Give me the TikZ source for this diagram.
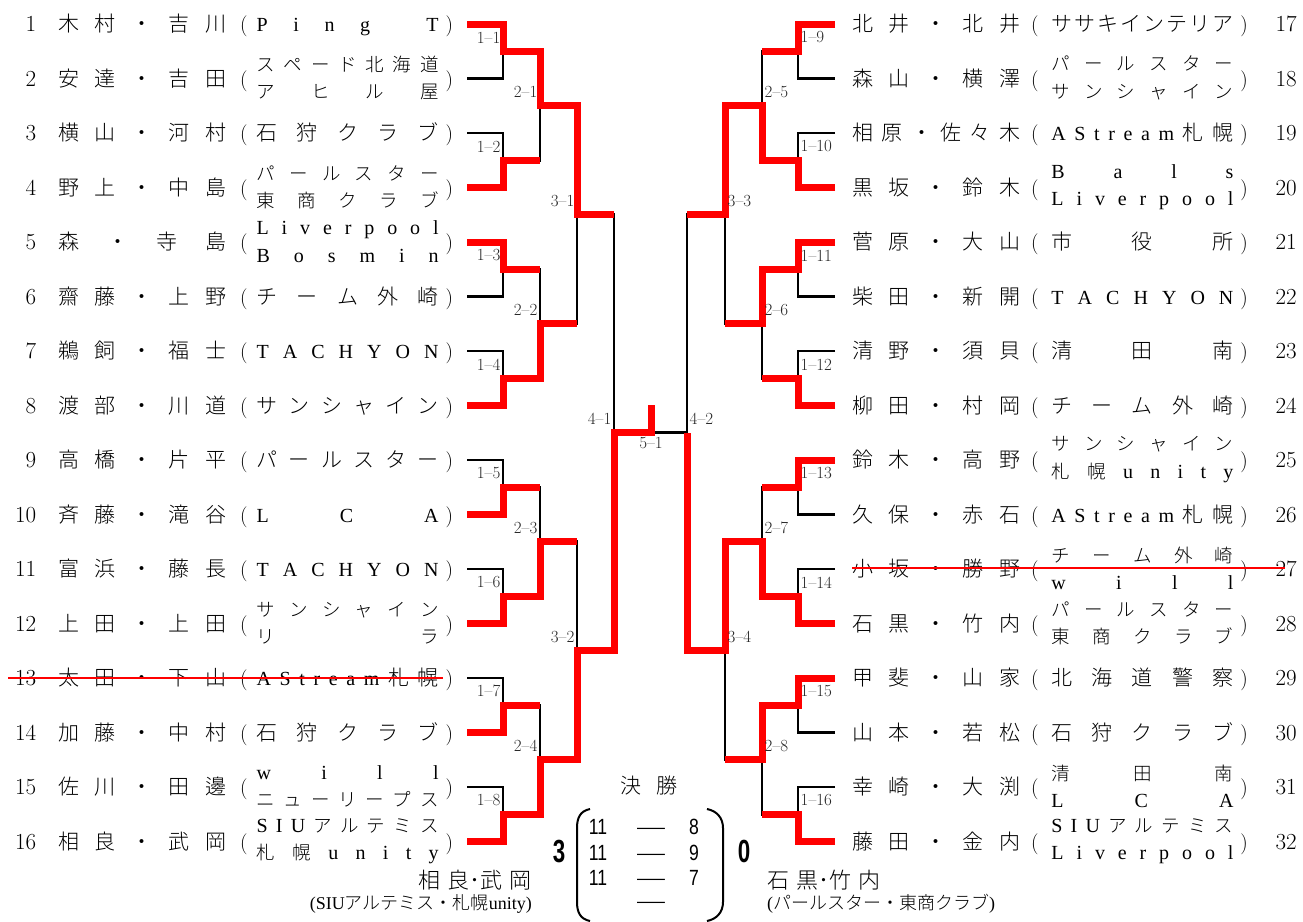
\documentclass[tikz,border=0pt]{standalone}
\usepackage{fontspec}
\usepackage{graphicx}
\newfontfamily\jp{Noto Sans CJK JP Light}
\newfontfamily\lat{Liberation Serif}
\newfontfamily\scorefont[FakeStretch=0.8]{Liberation Sans}
\newfontfamily\dashfont{Liberation Sans}
\newfontfamily\bigfont[FakeStretch=0.7]{Liberation Sans}

\makeatletter
% betuk szetosztasa adott szelessegre
\newcommand\spr[2]{\hbox to #1{\@tfor\spr@c:=#2\do{\expandafter\spr@one\spr@c\hfil}\unskip}}
\newcommand\spr@one[1]{\ifnum`#1>"2FFF\relax{\jp #1}\else{\lat\fontsize{20}{20}\selectfont #1}\fi}
\makeatother
\newcommand\team[2]{\ifx\relax#2\relax\spr{182pt}{#1}\else
  \raisebox{2.75pt}{$\vcenter{\fontsize{18.5}{27.5}\selectfont\spr{182pt}{#1}\spr{182pt}{#2}}$}\fi}
\newcommand\lrow[4]{\hbox to 36pt{\hfil\fontsize{23}{27}\selectfont #1}\hspace{22pt}\spr{168pt}{#2}\hspace{14pt}(\hspace{9pt}\team{#3}{#4}\hspace{7pt})}
\newcommand\rrow[4]{\spr{168pt}{#2}\hspace{11pt}(\hspace{12.8pt}\team{#3}{#4}\hspace{7pt})\hspace{27.8pt}{\fontsize{23}{27}\selectfont #1}}

\begin{document}
\begin{tikzpicture}[x=1pt,y=-1pt,
  entry/.style={anchor=base west,inner sep=0pt,font=\fontsize{21}{27}\selectfont},
  bline/.style={line width=2.6pt},
  rline/.style={red,line width=7pt},
  mlab/.style={inner sep=1.5pt,font=\fontsize{17}{17}\selectfont,text=black!85},
  score/.style={inner sep=0pt,font=\scorefont\fontsize{22}{22}\selectfont},
  bar/.style={inner sep=0pt,font=\dashfont\fontsize{18}{18}\selectfont},
  strike/.style={red,line width=2.5pt}]
\useasboundingbox (0,0) rectangle (1303,921);

% vonalvegek es meccspontok
\foreach \i in {1,...,16} \coordinate (e\i) at (467,{24+(\i-1)*54.5});
\foreach \i in {17,...,32} \coordinate (e\i) at (835,{24+(\i-17)*54.5});
\foreach \k in {1,...,8} \coordinate (a\k) at (503,{51.25+(\k-1)*109});
\foreach \k in {9,...,16} \coordinate (a\k) at (798,{51.25+(\k-9)*109});
\foreach \k in {1,...,4} \coordinate (b\k) at (540,{105.75+(\k-1)*218});
\foreach \k in {5,...,8} \coordinate (b\k) at (762,{105.75+(\k-5)*218});
\coordinate (c1) at (577,214.75);
\coordinate (c2) at (577,650.75);
\coordinate (c3) at (725,214.75);
\coordinate (c4) at (725,650.75);
\coordinate (d1) at (614,432.75);
\coordinate (d2) at (687,432.75);
\coordinate (f) at (651,432.75);
\coordinate (ftop) at (651,405);

% tabla (fekete)
\foreach \k [evaluate=\k as \u using int(2*\k-1), evaluate=\k as \v using int(2*\k)] in {1,...,16}
  \draw[bline] (e\u) -| (a\k) |- (e\v);
\foreach \k [evaluate=\k as \u using int(2*\k-1), evaluate=\k as \v using int(2*\k)] in {1,...,8}
  \draw[bline] (a\u) -| (b\k) |- (a\v);
\foreach \k [evaluate=\k as \u using int(2*\k-1), evaluate=\k as \v using int(2*\k)] in {1,...,4}
  \draw[bline] (b\u) -| (c\k) |- (b\v);
\draw[bline] (c1) -| (d1) |- (c2);
\draw[bline] (c3) -| (d2) |- (c4);
\draw[bline] (d1) -- (d2);

% gyoztesek (piros)
\draw[rline] (e1) -| (a1) -| (b1) -| (c1) -- (c1 -| d1);
\draw[rline] (e4) -| (a2) -- (a2 -| b1);
\draw[rline] (e5) -| (a3) -- (a3 -| b2);
\draw[rline] (e8) -| (a4) -| (b2) -- (b2 -| c1);
\draw[rline] (e10) -| (a5) -- (a5 -| b3);
\draw[rline] (e12) -| (a6) -| (b3) -- (b3 -| c2);
\draw[rline] (e14) -| (a7) -- (a7 -| b4);
\draw[rline] (e16) -| (a8) -| (b4) -| (c2) -| (d1) -- (f) -- (ftop);
\draw[rline] (e17) -| (a9) -- (a9 -| b5);
\draw[rline] (e20) -| (a10) -| (b5) -| (c3) -- (c3 -| d2);
\draw[rline] (e21) -| (a11) -| (b6) -- (b6 -| c3);
\draw[rline] (e24) -| (a12) -- (a12 -| b6);
\draw[rline] (e25) -| (a13) -- (a13 -| b7);
\draw[rline] (e28) -| (a14) -| (b7) -| (c4) -| (d2);
\draw[rline] (e29) -| (a15) -| (b8) -- (b8 -| c4);
\draw[rline] (e32) -| (a16) -- (a16 -| b8);

% meccsszamok
\foreach \k in {1,...,8} \node[mlab,anchor=south east,xshift=-1pt,yshift=6.5pt] (la\k) at (a\k) {1--\k};
\foreach \k in {9,...,16} \node[mlab,anchor=south west,xshift=1pt,yshift=6.5pt] (la\k) at (a\k) {1--\k};
\foreach \k in {1,...,4} \node[mlab,anchor=south east,xshift=-1pt,yshift=6.5pt] (lb\k) at (b\k) {2--\k};
\foreach \k in {5,...,8} \node[mlab,anchor=south west,xshift=1pt,yshift=6.5pt] (lb\k) at (b\k) {2--\k};
\node[mlab,anchor=south east,xshift=-1pt,yshift=6.5pt] (lc1) at (c1) {3--1};
\node[mlab,anchor=south east,xshift=-1pt,yshift=6.5pt] (lc2) at (c2) {3--2};
\node[mlab,anchor=south west,xshift=1pt,yshift=6.5pt] (lc3) at (c3) {3--3};
\node[mlab,anchor=south west,xshift=1pt,yshift=6.5pt] (lc4) at (c4) {3--4};
\node[mlab,anchor=south east,xshift=-1pt,yshift=6.5pt] (ld1) at (d1) {4--1};
\node[mlab,anchor=south west,xshift=1pt,yshift=6.5pt] (ld2) at (d2) {4--2};
\node[mlab,anchor=north,yshift=-2.5pt] (lf) at (f) {5--1};

% bal oldal
\node[entry] (p1) at (0,31.5) {\lrow{1}{木村・吉川}{Ping~T}{}};
\node[entry] (p2) at (0,86) {\lrow{2}{安達・吉田}{スペード北海道}{アヒル屋}};
\node[entry] (p3) at (0,140.5) {\lrow{3}{横山・河村}{石狩クラブ}{}};
\node[entry] (p4) at (0,195) {\lrow{4}{野上・中島}{パールスター}{東商クラブ}};
\node[entry] (p5) at (0,249.5) {\lrow{5}{森・寺島}{Liverpool}{Bosmin}};
\node[entry] (p6) at (0,304) {\lrow{6}{齋藤・上野}{チーム外崎}{}};
\node[entry] (p7) at (0,358.5) {\lrow{7}{鵜飼・福士}{TACHYON}{}};
\node[entry] (p8) at (0,413) {\lrow{8}{渡部・川道}{サンシャイン}{}};
\node[entry] (p9) at (0,467.5) {\lrow{9}{高橋・片平}{パールスター}{}};
\node[entry] (p10) at (0,522) {\lrow{10}{斉藤・滝谷}{LCA}{}};
\node[entry] (p11) at (0,576.5) {\lrow{11}{富浜・藤長}{TACHYON}{}};
\node[entry] (p12) at (0,631) {\lrow{12}{上田・上田}{サンシャイン}{リラ}};
\node[entry] (p13) at (0,685.5) {\lrow{13}{太田・下山}{AStream札幌}{}};
\node[entry] (p14) at (0,740) {\lrow{14}{加藤・中村}{石狩クラブ}{}};
\node[entry] (p15) at (0,794.5) {\lrow{15}{佐川・田邊}{will}{ニューリープス}};
\node[entry] (p16) at (0,849) {\lrow{16}{相良・武岡}{SIUアルテミス}{札幌unity}};

% jobb oldal
\node[entry] (p17) at (852,31.5) {\rrow{17}{北井・北井}{ササキインテリア}{}};
\node[entry] (p18) at (852,86) {\rrow{18}{森山・横澤}{パールスター}{サンシャイン}};
\node[entry] (p19) at (852,140.5) {\rrow{19}{相原・佐々木}{AStream札幌}{}};
\node[entry] (p20) at (852,195) {\rrow{20}{黒坂・鈴木}{Bals}{Liverpool}};
\node[entry] (p21) at (852,249.5) {\rrow{21}{菅原・大山}{市役所}{}};
\node[entry] (p22) at (852,304) {\rrow{22}{柴田・新開}{TACHYON}{}};
\node[entry] (p23) at (852,358.5) {\rrow{23}{清野・須貝}{清田南}{}};
\node[entry] (p24) at (852,413) {\rrow{24}{柳田・村岡}{チーム外崎}{}};
\node[entry] (p25) at (852,467.5) {\rrow{25}{鈴木・高野}{サンシャイン}{札幌unity}};
\node[entry] (p26) at (852,522) {\rrow{26}{久保・赤石}{AStream札幌}{}};
\node[entry] (p27) at (852,576.5) {\rrow{27}{小坂・勝野}{チーム外崎}{will}};
\node[entry] (p28) at (852,631) {\rrow{28}{石黒・竹内}{パールスター}{東商クラブ}};
\node[entry] (p29) at (852,685.5) {\rrow{29}{甲斐・山家}{北海道警察}{}};
\node[entry] (p30) at (852,740) {\rrow{30}{山本・若松}{石狩クラブ}{}};
\node[entry] (p31) at (852,794.5) {\rrow{31}{幸崎・大渕}{清田南}{LCA}};
\node[entry] (p32) at (852,849) {\rrow{32}{藤田・金内}{SIUアルテミス}{Liverpool}};

% visszalepett
\draw[strike] (8,678) -- (443,678);
\draw[strike] (852,568) -- (1285,568);

% donto
\node[inner sep=0pt,font=\fontsize{21}{21}\selectfont] (kessho) at (649,786) {\spr{58pt}{決勝}};
\node[score] (s1a) at (598,827) {11};
\node[bar] (s1b) at (651,831) {\scalebox{1.55}[1]{—}};
\node[score] (s1c) at (694,827) {8};
\node[score] (s2a) at (598,853) {11};
\node[bar] (s2b) at (651,857) {\scalebox{1.55}[1]{—}};
\node[score] (s2c) at (694,853) {9};
\node[score] (s3a) at (598,878) {11};
\node[bar] (s3b) at (651,882) {\scalebox{1.55}[1]{—}};
\node[score] (s3c) at (694,878) {7};
\node[bar] (s4b) at (651,905) {\scalebox{1.55}[1]{—}};
\draw[line width=2pt] (590,809) .. controls (580,811) and (577,818) .. (577,828) -- (577,902) .. controls (577,912) and (580,919) .. (590,921);
\draw[line width=2pt] (707,809) .. controls (717,811) and (723,818) .. (723,828) -- (723,902) .. controls (723,912) and (717,919) .. (707,921);
\node[inner sep=0pt,font=\bigfont\bfseries\fontsize{32}{32}\selectfont] (won) at (559,851) {3};
\node[inner sep=0pt,font=\bigfont\bfseries\fontsize{32}{32}\selectfont] (lost) at (744,851) {0};
\node[anchor=east,inner sep=0pt,font=\jp\fontsize{22}{22}\selectfont] (wname) at (532,880) {相\hspace{7pt}良･武\hspace{7pt}岡};
\node[anchor=east,inner sep=0pt,font=\lat\fontsize{18}{18}\selectfont] (wteam) at (532,904) {(SIU{\jp アルテミス・札幌}unity)};
\node[anchor=west,inner sep=0pt,font=\jp\fontsize{22}{22}\selectfont] (lname) at (767,880) {石\hspace{7pt}黒･竹\hspace{7pt}内};
\node[anchor=west,inner sep=0pt,font=\lat\fontsize{18}{18}\selectfont] (lteam) at (767,904) {({\jp パールスター・東商クラブ})};
\end{tikzpicture}
\end{document}
